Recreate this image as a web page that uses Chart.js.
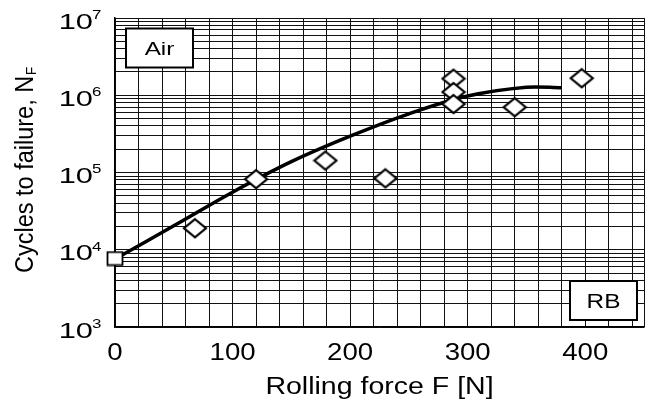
<!DOCTYPE html>
<html lang="en">
<head>
  <meta charset="UTF-8" />
  <title>Cycles to failure vs rolling force</title>
  <script src="https://cdn.jsdelivr.net/npm/chart.js"></script>
  <style>
    body {
      margin: 0;
      background: white;
    }
    #chart {
      display: block;
    }
  </style>
</head>
<body>
  <canvas id="chart" width="655" height="401"></canvas>

  <script>
    // fitted curve
    const curveForce = [0, 50, 100, 150, 200, 250, 300, 350, 380];
    const curveCycles = [7600, 20400, 55600, 138000, 295000, 575000, 977000, 1270000, 1250000];

    // rolled specimens (diamonds)
    const testForce = [68, 120, 179, 230, 288, 288, 288, 340, 397];
    const testCycles = [19000, 82000, 143000, 84000, 1640000, 1100000, 770000, 700000, 1660000];

    // unrolled reference (square)
    const baseForce = [0];
    const baseCycles = [7700];

    const xTickLabels = [0, 100, 200, 300, 400];
    const yExponents = [3, 4, 5, 6, 7];

    const FONT = '"Liberation Sans", Arial, sans-serif';

    function toPoints(xs, ys) {
      return xs.map((x, i) => ({ x: x, y: ys[i] }));
    }

    // marker images, slightly wider than tall like the scan
    function diamond() {
      const c = document.createElement('canvas');
      c.width = 26; c.height = 22;
      const g = c.getContext('2d');
      g.beginPath();
      g.moveTo(13, 2); g.lineTo(24, 11); g.lineTo(13, 20); g.lineTo(2, 11);
      g.closePath();
      g.fillStyle = '#fff'; g.fill();
      g.lineWidth = 2.2; g.strokeStyle = '#000'; g.stroke();
      return c;
    }
    function square() {
      const c = document.createElement('canvas');
      c.width = 18; c.height = 16;
      const g = c.getContext('2d');
      g.fillStyle = '#fff'; g.fillRect(1.5, 1.5, 15, 13);
      g.lineWidth = 1.8; g.strokeStyle = '#000'; g.strokeRect(1.5, 1.5, 15, 13);
      return c;
    }

    const xGrid = [];
    for (let v = 0; v <= 440; v += 20) xGrid.push(v);
    xGrid.push(450);
    const yGrid = [];
    for (let e = 3; e < 7; e++) {
      for (let m = 1; m <= 9; m++) yGrid.push(m * Math.pow(10, e));
    }
    yGrid.push(1e7);

    function stretchText(ctx, text, x, y, size, align, sx) {
      ctx.save();
      ctx.translate(x, y);
      ctx.scale(sx, 1);
      ctx.font = size + 'px ' + FONT;
      ctx.textAlign = align;
      ctx.textBaseline = 'alphabetic';
      ctx.fillStyle = '#000';
      ctx.fillText(text, 0, 0);
      ctx.restore();
    }

    function labelBox(ctx, x, y, w, h, text, size, sx) {
      ctx.save();
      ctx.fillStyle = '#fff';
      ctx.fillRect(x, y, w, h);
      ctx.lineWidth = 2;
      ctx.strokeStyle = '#000';
      ctx.strokeRect(x, y, w, h);
      ctx.restore();
      stretchText(ctx, text, x + w / 2, y + h / 2 + size * 0.36, size, 'center', sx);
    }

    const textPlugin = {
      id: 'texts',
      afterDraw(chart) {
        const ctx = chart.ctx;
        const xs = chart.scales.x;
        const ys = chart.scales.y;
        const area = chart.chartArea;

        xTickLabels.forEach(v => {
          stretchText(ctx, String(v), xs.getPixelForValue(v), area.bottom + 32.5, 23, 'center', 1.2);
        });

        yExponents.forEach(e => {
          const py = ys.getPixelForValue(Math.pow(10, e));
          stretchText(ctx, '10', area.left - 22, py + 10.7, 22, 'right', 1.4);
          stretchText(ctx, String(e), area.left - 23, py + 0.8, 13, 'left', 1.3);
        });

        // x title
        stretchText(ctx, 'Rolling force F [N]', (area.left + area.right) / 2, 393.5, 23, 'center', 1.24);

        // y title with subscript
        ctx.save();
        ctx.translate(33, 273);
        ctx.scale(1.07, 1);
        ctx.rotate(-Math.PI / 2);
        ctx.fillStyle = '#000';
        ctx.textBaseline = 'alphabetic';
        ctx.textAlign = 'left';
        ctx.font = '23.5px ' + FONT;
        const main = 'Cycles to failure, N';
        ctx.fillText(main, 0, 0);
        const w = ctx.measureText(main).width;
        ctx.font = '14px ' + FONT;
        ctx.fillText('F', w + 0.5, 3);
        ctx.restore();

        labelBox(ctx, 126, 28.5, 67, 39, 'Air', 19, 1.28);
        labelBox(ctx, 570, 281, 67, 39, 'RB', 20, 1.22);
      }
    };

    new Chart(document.getElementById('chart'), {
      type: 'scatter',
      data: {
        datasets: [
          {
            label: 'Unrolled',
            data: toPoints(baseForce, baseCycles),
            pointStyle: square(),
            pointRadius: 8,
            clip: false
          },
          {
            label: 'Rolled',
            data: toPoints(testForce, testCycles),
            pointStyle: diamond(),
            pointRadius: 10,
            clip: false
          },
          {
            label: 'Fit',
            type: 'line',
            data: toPoints(curveForce, curveCycles),
            borderColor: '#000',
            borderWidth: 3.5,
            pointRadius: 0,
            fill: false,
            tension: 0.35,
            clip: false
          }
        ]
      },
      plugins: [textPlugin],
      options: {
        responsive: false,
        animation: false,
        layout: { padding: { left: 115, right: 4, top: 18, bottom: 74 } },
        plugins: {
          legend: { display: false },
          tooltip: { enabled: false }
        },
        scales: {
          x: {
            type: 'linear',
            min: 0,
            max: 450,
            afterBuildTicks: s => { s.ticks = xGrid.map(v => ({ value: v })); },
            ticks: { display: false, autoSkip: false },
            grid: { color: '#111', lineWidth: 1, drawTicks: false },
            border: { color: '#000', width: 1.5 }
          },
          y: {
            type: 'logarithmic',
            min: 1e3,
            max: 1e7,
            afterBuildTicks: s => { s.ticks = yGrid.map(v => ({ value: v })); },
            ticks: { display: false, autoSkip: false },
            grid: { color: '#111', lineWidth: 1, drawTicks: false },
            border: { color: '#000', width: 1.5 }
          }
        }
      }
    });
  </script>
</body>
</html>
